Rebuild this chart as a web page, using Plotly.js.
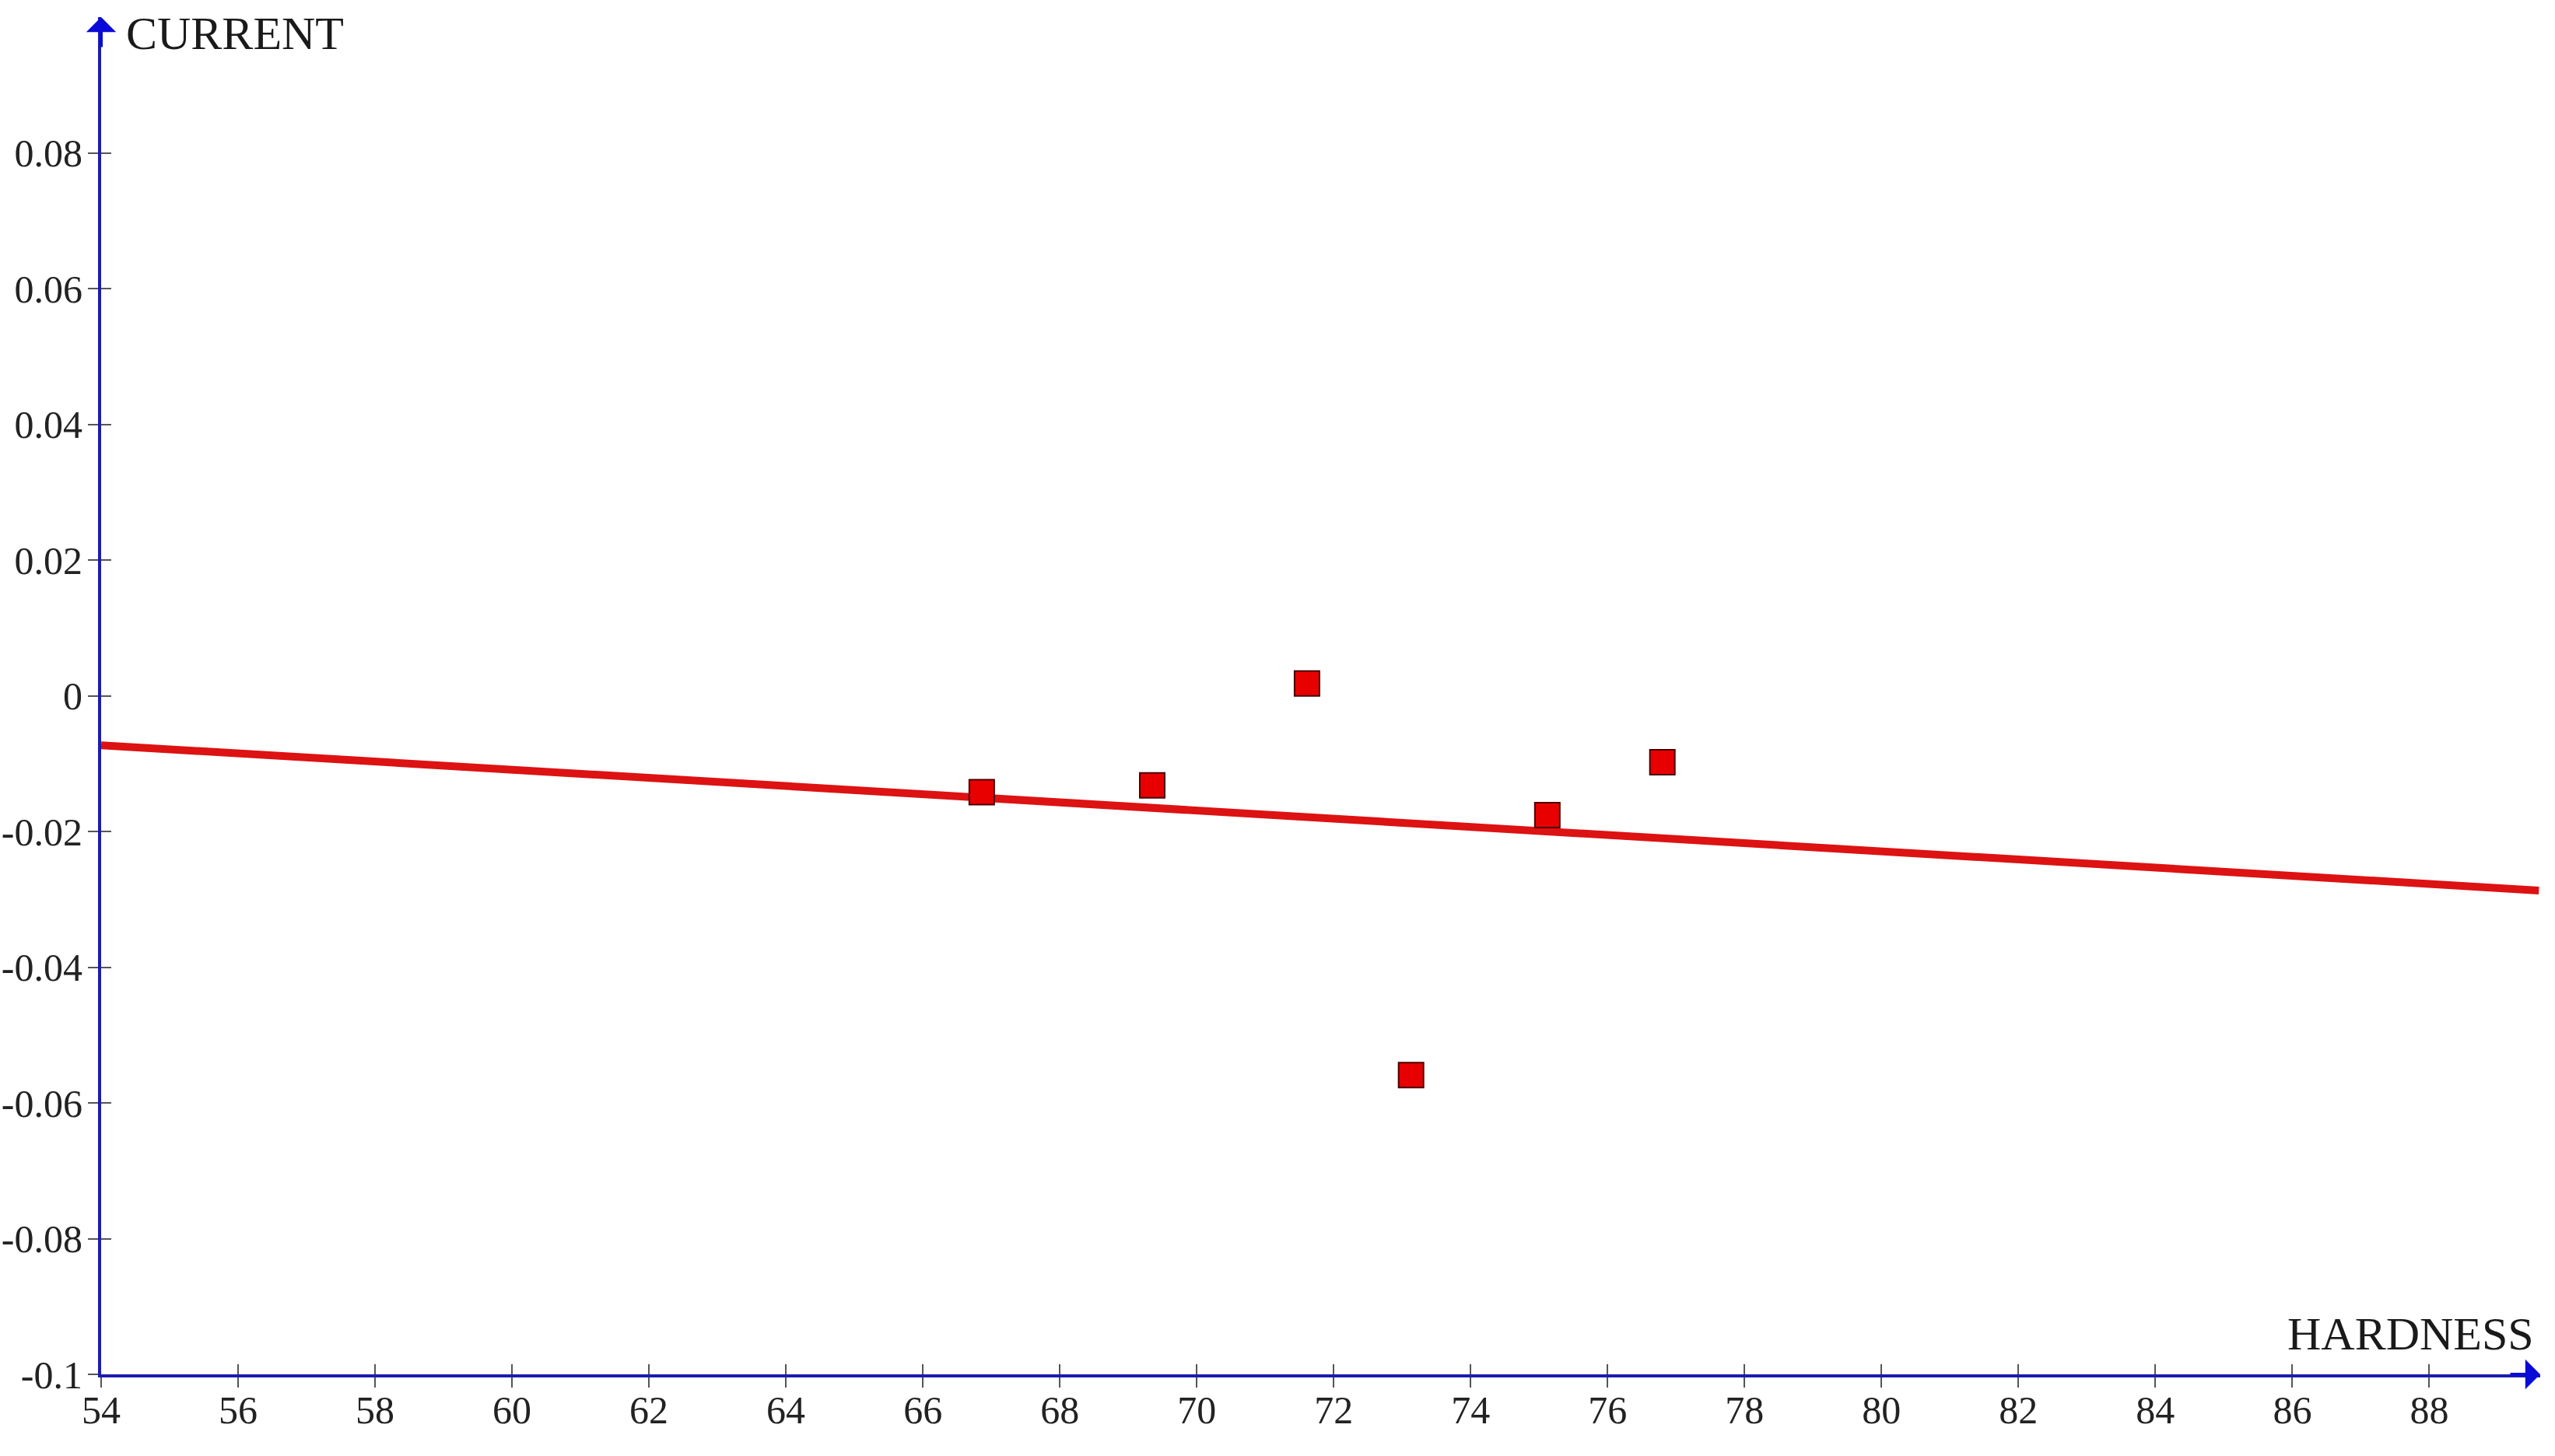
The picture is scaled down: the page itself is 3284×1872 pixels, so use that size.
<!DOCTYPE html>
<html>
<head>
<meta charset="utf-8">
<script src="https://cdn.plot.ly/plotly-3.0.1.min.js"></script>
<style>
  html, body { margin: 0; padding: 0; background: #fff; }
  #chart { width: 3284px; height: 1872px; }
</style>
</head>
<body>
<div id="chart"></div>
<script>
// Measured points (hardness vs current) and the fitted line
const hardness = [66.86, 69.35, 71.61, 73.13, 75.12, 76.80];
const current = [-0.0142, -0.0132, 0.0018, -0.0559, -0.0176, -0.0098];

const fitX = [54, 89.6];
const fitY = [-0.0073, -0.0287];

// Tick values and labels
const xTicks = [54, 56, 58, 60, 62, 64, 66, 68, 70, 72, 74, 76, 78, 80, 82, 84, 86, 88];
const yTicks = [-0.1, -0.08, -0.06, -0.04, -0.02, 0, 0.02, 0.04, 0.06, 0.08];
const yTickText = ['-0.1', '-0.08', '-0.06', '-0.04', '-0.02', '0', '0.02', '0.04', '0.06', '0.08'];

const xRange = [54, 89.62];
const yRange = [-0.1, 0.1];

const axisBlue = '#1c1cb0';
const arrowBlue = '#0a0ad8';
const tickGrey = '#555555';
const serif = 'Liberation Serif, Times New Roman, serif';

const tickFont = { family: serif, size: 50, color: '#222222' };

// Fitted line on the main axes
const fitTrace = {
    x: fitX,
    y: fitY,
    type: 'scatter',
    mode: 'lines',
    line: { color: '#dd1212', width: 10 },
    hoverinfo: 'skip',
    xaxis: 'x',
    yaxis: 'y'
};

// Data points on the overlay axes so they sit above the line
const pointTrace = {
    x: hardness,
    y: current,
    type: 'scatter',
    mode: 'markers',
    marker: {
        symbol: 'square',
        size: 32,
        color: '#e80000',
        line: { color: '#4a0000', width: 2 }
    },
    xaxis: 'x2',
    yaxis: 'y2'
};

const baseX = {
    range: xRange,
    tickmode: 'array',
    tickvals: xTicks,
    tickwidth: 2,
    ticklen: 13,
    tickcolor: tickGrey,
    showgrid: false,
    zeroline: false,
    fixedrange: true
};

const baseY = {
    range: yRange,
    tickmode: 'array',
    tickvals: yTicks,
    ticktext: yTickText,
    tickwidth: 2,
    ticklen: 13,
    tickcolor: tickGrey,
    showgrid: false,
    zeroline: false,
    fixedrange: true
};

const layout = {
    width: 3284,
    height: 1872,
    paper_bgcolor: '#ffffff',
    plot_bgcolor: '#ffffff',
    showlegend: false,
    margin: { l: 130, r: 19, t: 22, b: 105 },
    xaxis: Object.assign({}, baseX, {
        ticks: 'outside',
        showline: true,
        linecolor: axisBlue,
        linewidth: 4,
        tickfont: tickFont,
        ticklabelstandoff: -14,
        anchor: 'y'
    }),
    yaxis: Object.assign({}, baseY, {
        ticks: 'outside',
        showline: true,
        linecolor: axisBlue,
        linewidth: 4,
        tickfont: tickFont,
        ticklabelstandoff: -3,
        anchor: 'x'
    }),
    // overlay axes give the ticks that cross the axis lines
    xaxis2: Object.assign({}, baseX, {
        overlaying: 'x',
        anchor: 'y2',
        side: 'bottom',
        ticks: 'inside',
        showticklabels: false,
        showline: false
    }),
    yaxis2: Object.assign({}, baseY, {
        overlaying: 'y',
        anchor: 'x2',
        side: 'left',
        ticks: 'inside',
        showticklabels: false,
        showline: false
    }),
    annotations: [
        {
            text: 'CURRENT',
            xref: 'paper', yref: 'paper',
            x: 0, y: 1,
            xanchor: 'left', yanchor: 'middle',
            xshift: 30, yshift: -21,
            showarrow: false,
            font: { family: serif, size: 60, color: '#1a1a1a' }
        },
        {
            text: 'HARDNESS',
            xref: 'paper', yref: 'paper',
            x: 1, y: 0,
            xanchor: 'right', yanchor: 'middle',
            xshift: -6, yshift: 52,
            showarrow: false,
            font: { family: serif, size: 60, color: '#1a1a1a' }
        },
        {
            // arrow at the end of the x axis
            text: '',
            xref: 'paper', yref: 'paper',
            x: 1, y: 0,
            ax: -40, ay: 0,
            showarrow: true,
            arrowhead: 1,
            arrowsize: 1.6,
            arrowwidth: 4,
            arrowcolor: arrowBlue,
            standoff: 0
        },
        {
            // arrow at the top of the y axis
            text: '',
            xref: 'paper', yref: 'paper',
            x: 0, y: 1,
            ax: 0, ay: 40,
            showarrow: true,
            arrowhead: 1,
            arrowsize: 1.6,
            arrowwidth: 4,
            arrowcolor: arrowBlue,
            standoff: 0
        }
    ]
};

Plotly.newPlot('chart', [fitTrace, pointTrace], layout, { displayModeBar: false, staticPlot: true });
</script>
</body>
</html>
